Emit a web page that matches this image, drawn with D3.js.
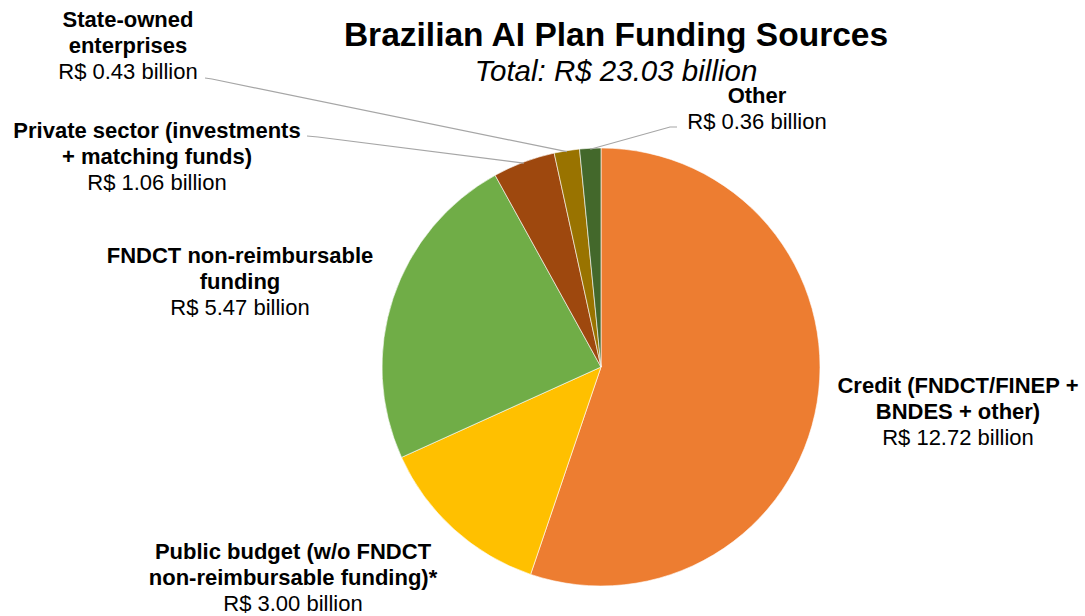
<!DOCTYPE html>
<html>
<head>
<meta charset="utf-8">
<script src="https://cdn.jsdelivr.net/npm/d3@7"></script>
<style>
  body { margin: 0; background: #fff; }
  text { font-family: "Liberation Sans", Arial, sans-serif; fill: #000; }
</style>
</head>
<body>
<svg id="chart" width="1085" height="616"></svg>
<script>
// funding sources, clockwise from 12 o'clock
var categories = ['Credit', 'Public budget', 'FNDCT', 'Private sector', 'State-owned', 'Other'];
var values = [12.72, 3.00, 5.47, 1.06, 0.43, 0.36];
var colors = ['#ED7D31', '#FFC000', '#70AD47', '#9E480E', '#997300', '#43682B'];
var labelLines = [
  ['Credit (FNDCT/FINEP +', 'BNDES + other)'],
  ['Public budget (w/o FNDCT', 'non-reimbursable funding)*'],
  ['FNDCT non-reimbursable', 'funding'],
  ['Private sector (investments', '+ matching funds)'],
  ['State-owned', 'enterprises'],
  ['Other']
];

var svg = d3.select('#chart');
var cx = 601, cy = 367, r = 219;

svg.append('text')
  .attr('x', 616).attr('y', 46)
  .attr('text-anchor', 'middle')
  .style('font-size', '33.5px').style('font-weight', 'bold')
  .text('Brazilian AI Plan Funding Sources');

svg.append('text')
  .attr('x', 616).attr('y', 81)
  .attr('text-anchor', 'middle')
  .style('font-size', '29.5px').style('font-style', 'italic')
  .text('Total: R$ 23.03 billion');

var data = categories.map(function (c, i) {
  return {name: c, value: values[i], color: colors[i], lines: labelLines[i]};
});

var pie = d3.pie().sort(null).value(function (d) { return d.value; });
var arc = d3.arc().innerRadius(0).outerRadius(r);
var arcs = pie(data);

var g = svg.append('g').attr('transform', 'translate(' + cx + ',' + cy + ')');

g.selectAll('path')
  .data(arcs)
  .enter().append('path')
  .attr('d', arc)
  .attr('fill', function (d) { return d.data.color; })
  .attr('stroke', '#fff')
  .attr('stroke-width', 0.6);

// label placement (center x, first baseline) and leader lines
var labelPos = [
  {x: 958, y: 393},
  {x: 293, y: 559},
  {x: 240, y: 263},
  {x: 157, y: 138, leader: [[307, 136], [318, 137]]},
  {x: 128, y: 27, leader: [[205, 78], [212, 79]]},
  {x: 757, y: 103, leader: [[677, 127], [670, 127]]}
];

var outer = d3.arc().innerRadius(r).outerRadius(r);

arcs.forEach(function (a, i) {
  var p = labelPos[i];
  var t = svg.append('text')
    .attr('text-anchor', 'middle')
    .style('font-size', '22px');
  a.data.lines.forEach(function (ln, k) {
    t.append('tspan')
      .attr('x', p.x).attr('y', p.y + k * 26)
      .style('font-weight', 'bold')
      .text(ln);
  });
  t.append('tspan')
    .attr('x', p.x).attr('y', p.y + a.data.lines.length * 26)
    .text('R$ ' + d3.format('.2f')(a.data.value) + ' billion');

  if (p.leader) {
    var e = outer.centroid(a);
    var pts = p.leader.concat([[cx + e[0], cy + e[1] + 1]]);
    svg.append('path')
      .attr('d', d3.line()(pts))
      .attr('fill', 'none')
      .attr('stroke', '#a6a6a6')
      .attr('stroke-width', 1.2);
  }
});
</script>
</body>
</html>
